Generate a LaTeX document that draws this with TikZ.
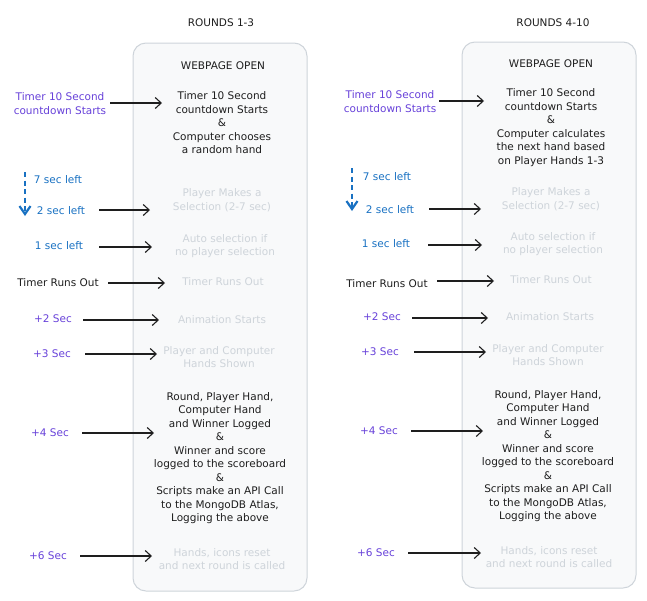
\documentclass[tikz,border=0pt]{standalone}
\usepackage{fontspec}
\setmainfont{DejaVu Sans}
\usetikzlibrary{arrows.meta}
\definecolor{ink}{HTML}{1E1E1E}
\definecolor{violet}{HTML}{6741D9}
\definecolor{sky}{HTML}{1971C2}
\definecolor{faint}{HTML}{CED4DA}
\definecolor{boxline}{HTML}{CED4DA}
\definecolor{boxfill}{HTML}{F8F9FA}
\tikzset{
  txt/.style={inner sep=0pt, align=center, font=\fontsize{10.5}{13.5}\selectfont, text=ink},
  dim/.style={txt, text=faint},
  vio/.style={txt, text=violet},
  blu/.style={txt, text=sky},
  arr/.style={draw=ink, line width=1.3pt, -{Straight Barb[length=6pt,width=11pt,line width=1.1pt]}},
  dasharr/.style={draw=sky, line width=2.2pt, dash pattern=on 5pt off 3.5pt, -{Straight Barb[length=8pt,width=11pt,line width=2.2pt]}},
  panel/.style={draw=boxline, fill=boxfill, line width=1pt, rounded corners=13pt}
}
\begin{document}
\begin{tikzpicture}[x=1pt,y=-1pt]
\useasboundingbox (0,0) rectangle (647,600);
% panels
\path[panel] (133,43) rectangle (307,591);
\path[panel] (462,42) rectangle (636,588);
% titles
\node[txt] (t1) at (221,23) {ROUNDS 1-3};
\node[txt] (t2) at (553,23) {ROUNDS 4-10};
% ---- left panel texts
\node[txt] (lw) at (223,66) {WEBPAGE OPEN};
\node[txt] (lb1) at (222,123) {Timer 10 Second\\countdown Starts\\\&\\Computer chooses\\a random hand};
\node[dim] (lb2) at (222,200) {Player Makes a\\Selection (2-7 sec)};
\node[dim] (lb3) at (225,246) {Auto selection if\\no player selection};
\node[dim] (lb4) at (223,282) {Timer Runs Out};
\node[dim] (lb5) at (222,320) {Animation Starts};
\node[dim] (lb6) at (219,357) {Player and Computer\\Hands Shown};
\node[txt] (lb7) at (220,458) {Round, Player Hand,\\Computer Hand\\and Winner Logged\\\&\\Winner and score\\logged to the scoreboard\\\&\\Scripts make an API Call\\to the MongoDB Atlas,\\Logging the above};
\node[dim] (lb8) at (222,559) {Hands, icons reset\\and next round is called};
% left labels
\node[vio] (ll1) at (60,103.5) {Timer 10 Second\\countdown Starts};
\node[blu] (ll7) at (58,180) {7 sec left};
\node[blu] (ll2) at (61,211) {2 sec left};
\node[blu] (ll3) at (59,246) {1 sec left};
\node[txt] (ll4) at (58,283) {Timer Runs Out};
\node[vio] (ll5) at (53,319) {+2 Sec};
\node[vio] (ll6) at (52,354) {+3 Sec};
\node[vio] (ll8) at (50,433) {+4 Sec};
\node[vio] (ll9) at (48,556) {+6 Sec};
% left arrow ends
\coordinate (la1s) at (110,103); \coordinate (la1e) at (162,103);
\coordinate (lds) at (25,172);   \coordinate (lde) at (25,216);
\coordinate (la2s) at (99,210);  \coordinate (la2e) at (150,210);
\coordinate (la3s) at (99,247);  \coordinate (la3e) at (152,247);
\coordinate (la4s) at (108,283); \coordinate (la4e) at (165,283);
\coordinate (la5s) at (83,320);  \coordinate (la5e) at (159,320);
\coordinate (la6s) at (85,354);  \coordinate (la6e) at (157,354);
\coordinate (la7s) at (82,433);  \coordinate (la7e) at (154,433);
\coordinate (la8s) at (80,556);  \coordinate (la8e) at (152,556);
\draw[arr] (la1s) -- (la1e);
\draw[dasharr] (lds) -- (lde);
\draw[arr] (la2s) -- (la2e);
\draw[arr] (la3s) -- (la3e);
\draw[arr] (la4s) -- (la4e);
\draw[arr] (la5s) -- (la5e);
\draw[arr] (la6s) -- (la6e);
\draw[arr] (la7s) -- (la7e);
\draw[arr] (la8s) -- (la8e);
% ---- right panel texts
\node[txt] (rw) at (551,64) {WEBPAGE OPEN};
\node[txt] (rb1) at (551,127.5) {Timer 10 Second\\countdown Starts\\\&\\Computer calculates\\the next hand based\\on Player Hands 1-3};
\node[dim] (rb2) at (551,199) {Player Makes a\\Selection (2-7 sec)};
\node[dim] (rb3) at (553,244) {Auto selection if\\no player selection};
\node[dim] (rb4) at (551,280) {Timer Runs Out};
\node[dim] (rb5) at (550,317) {Animation Starts};
\node[dim] (rb6) at (548,355) {Player and Computer\\Hands Shown};
\node[txt] (rb7) at (548,456) {Round, Player Hand,\\Computer Hand\\and Winner Logged\\\&\\Winner and score\\logged to the scoreboard\\\&\\Scripts make an API Call\\to the MongoDB Atlas,\\Logging the above};
\node[dim] (rb8) at (549,557) {Hands, icons reset\\and next round is called};
% right labels
\node[vio] (rl1) at (390,101.5) {Timer 10 Second\\countdown Starts};
\node[blu] (rl7) at (387,177) {7 sec left};
\node[blu] (rl2) at (390,210) {2 sec left};
\node[blu] (rl3) at (386,244) {1 sec left};
\node[txt] (rl4) at (387,284) {Timer Runs Out};
\node[vio] (rl5) at (382,317) {+2 Sec};
\node[vio] (rl6) at (380,352) {+3 Sec};
\node[vio] (rl8) at (379,431) {+4 Sec};
\node[vio] (rl9) at (376,553) {+6 Sec};
% right arrow ends
\coordinate (ra1s) at (439,101); \coordinate (ra1e) at (484,101);
\coordinate (rds) at (352,168);  \coordinate (rde) at (352,211);
\coordinate (ra2s) at (429,209); \coordinate (ra2e) at (481,209);
\coordinate (ra3s) at (428,245); \coordinate (ra3e) at (482,245);
\coordinate (ra4s) at (437,281); \coordinate (ra4e) at (494,281);
\coordinate (ra5s) at (412,318); \coordinate (ra5e) at (488,318);
\coordinate (ra6s) at (414,352); \coordinate (ra6e) at (486,352);
\coordinate (ra7s) at (411,431); \coordinate (ra7e) at (483,431);
\coordinate (ra8s) at (408,553); \coordinate (ra8e) at (481,553);
\draw[arr] (ra1s) -- (ra1e);
\draw[dasharr] (rds) -- (rde);
\draw[arr] (ra2s) -- (ra2e);
\draw[arr] (ra3s) -- (ra3e);
\draw[arr] (ra4s) -- (ra4e);
\draw[arr] (ra5s) -- (ra5e);
\draw[arr] (ra6s) -- (ra6e);
\draw[arr] (ra7s) -- (ra7e);
\draw[arr] (ra8s) -- (ra8e);
\end{tikzpicture}
\end{document}
